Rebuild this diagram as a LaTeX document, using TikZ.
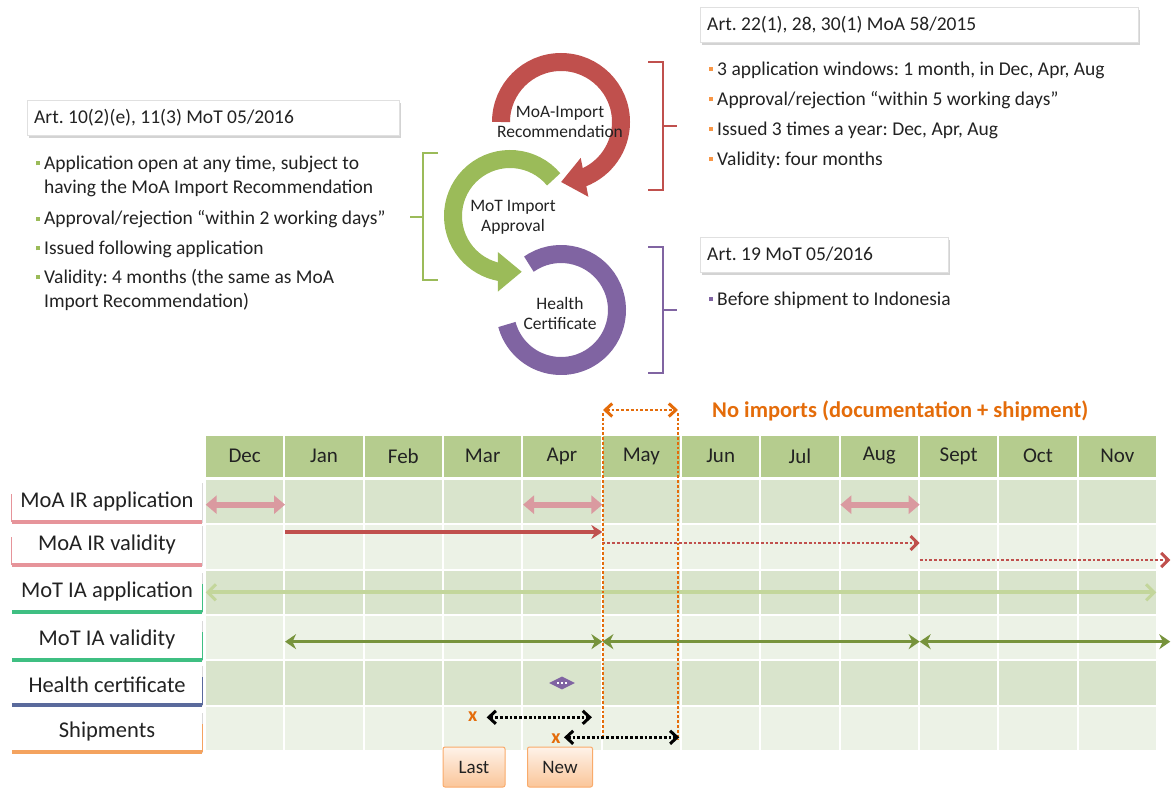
\documentclass[tikz,border=0pt]{standalone}
\usepackage{fontspec}
\setmainfont{Carlito}
\usetikzlibrary{arrows.meta,bending,shadows,shapes.geometric,positioning}
\frenchspacing

\definecolor{moared}{HTML}{C0504D}
\definecolor{motgreen}{HTML}{9BBB59}
\definecolor{hcpurple}{HTML}{8064A2}
\definecolor{shiporange}{HTML}{F79646}
\definecolor{noimp}{HTML}{E46C0A}
\definecolor{hdrgreen}{HTML}{B5CC8E}
\definecolor{rowdark}{HTML}{D9E4CC}
\definecolor{rowlight}{HTML}{ECF2E6}
\definecolor{apppink}{HTML}{DA9AA0}
\definecolor{applgreen}{HTML}{C3D69B}
\definecolor{validgreen}{HTML}{77933C}
\definecolor{labpink}{HTML}{E6949A}
\definecolor{labgreen}{HTML}{3FBF82}
\definecolor{labblue}{HTML}{5A6A9C}
\definecolor{laborange}{HTML}{F4A35F}
\definecolor{txtdark}{HTML}{222222}

\newcommand{\sqb}[1]{\textcolor{#1}{\rule[0.45ex]{4pt}{4pt}}\hspace{4pt}}

\tikzset{
  artbox/.style={draw=black!12, fill=white, anchor=west, align=flush left, minimum height=35pt, inner xsep=7pt, inner ysep=5pt,
    font=\fontsize{19.5}{22}\selectfont, text=txtdark, drop shadow={opacity=0.35, shadow xshift=1.5pt, shadow yshift=-2.5pt}},
  bul/.style={anchor=west, align=left, inner sep=0pt, font=\fontsize{19.5}{24}\selectfont, text=txtdark},
  ring/.style={line width=18pt},
  ringtxt/.style={align=center, inner sep=0pt, font=\fontsize{17.5}{20}\selectfont, text=txtdark},
  brk/.style={line width=2.5pt},
  hdr/.style={fill=hdrgreen, minimum width=77.5pt, minimum height=41pt, inner sep=0pt, font=\fontsize{21}{24}\selectfont, text=txtdark},
  cell/.style={minimum width=77.5pt, minimum height=43.5pt, inner sep=0pt},
  rowlab/.style={fill=white, minimum width=190pt, minimum height=40pt, inner sep=0pt, font=\fontsize{22.5}{24}\selectfont, text=txtdark,
    drop shadow={opacity=0.3, shadow xshift=1pt, shadow yshift=-1.5pt}},
  appl/.style={apppink, line width=6pt, {Triangle[width=18pt,length=11pt]}-{Triangle[width=18pt,length=11pt]}},
  valid/.style={moared, line width=3.5pt, -{Stealth[width=14pt,length=11pt]}},
  validnext/.style={moared, dotted, line width=2.8pt, -{Straight Barb[width=14pt,length=7pt,line width=3pt]}},
  motapp/.style={applgreen, line width=4pt, {Straight Barb[width=16pt,length=8pt,line width=3pt]}-{Straight Barb[width=16pt,length=8pt,line width=3pt]}},
  motvalid/.style={validgreen, line width=3.5pt, {Stealth[width=15pt,length=11pt]}-{Stealth[width=15pt,length=11pt]}},
  ship/.style={black, dotted, line width=2.8pt, {Straight Barb[width=13pt,length=7pt,line width=3pt]}-{Straight Barb[width=13pt,length=7pt,line width=3pt]}},
  stop/.style={noimp, dotted, line width=2.8pt},
  xmark/.style={inner sep=0pt, font=\fontsize{20}{20}\selectfont\bfseries, text=noimp},
  tagbox/.style={draw=shiporange!80, line width=1pt, top color=shiporange!12, bottom color=shiporange!55, rounded corners=2pt,
    minimum width=62pt, minimum height=40pt, font=\fontsize{19}{22}\selectfont, text=txtdark}
}

\begin{document}
\begin{tikzpicture}[x=1pt, y=-1pt]
\useasboundingbox (0,0) rectangle (1172,787);

% references and what they say
\node[artbox, text width=358pt] (artmot) at (27,117.5) {Art. 10(2)(e), 11(3) MoT 05/2016};
\node[artbox, text width=424pt] (artmoa) at (700,24.5) {Art. 22(1), 28, 30(1) MoA 58/2015};
\node[artbox, text width=234pt] (arthc) at (700,254.5) {Art. 19 MoT 05/2016};

\node[bul] (lb1) at (36,176.5) {\sqb{motgreen}Application open at any time, subject to\\\hspace*{8pt}having the MoA Import Recommendation};
\node[bul] (lb2) at (36,219.5) {\sqb{motgreen}Approval/rejection “within 2 working days”};
\node[bul] (lb3) at (36,249.5) {\sqb{motgreen}Issued following application};
\node[bul] (lb4) at (36,290) {\sqb{motgreen}Validity: 4 months (the same as MoA\\\hspace*{8pt}Import Recommendation)};

\node[bul] (rb1) at (709,70) {\sqb{shiporange}3 application windows: 1 month, in Dec, Apr, Aug};
\node[bul] (rb2) at (709,100) {\sqb{shiporange}Approval/rejection “within 5 working days”};
\node[bul] (rb3) at (709,130) {\sqb{shiporange}Issued 3 times a year: Dec, Apr, Aug};
\node[bul] (rb4) at (709,160) {\sqb{shiporange}Validity: four months};
\node[bul] (pb1) at (709,300) {\sqb{hcpurple}Before shipment to Indonesia};

% brackets
\draw[brk, motgreen] (438,153) -- (423,153) -- (423,280) -- (438,280) (423,217) -- (410,217);
\draw[brk, moared] (648,62) -- (663,62) -- (663,190) -- (648,190) (663,126) -- (677,126);
\draw[brk, hcpurple] (648,247) -- (663,247) -- (663,373) -- (648,373) (663,310) -- (677,310);

% the three documents
\draw[ring, motgreen, -{Triangle[width=38pt,length=24pt,flex]}] (510,216) ++(-40:57) arc[start angle=-40, end angle=-282, radius=57];
\draw[ring, hcpurple] (561,310) ++(-125:56) arc[start angle=-125, end angle=165, radius=56];
\draw[ring, moared, -{Triangle[width=38pt,length=24pt,flex]}] (561,122) ++(-180:60) arc[start angle=-180, end angle=90, radius=60];
\node[ringtxt] (moa) at (560,122) {MoA-Import\\Recommendation};
\node[ringtxt] (mot) at (513,217) {MoT Import\\Approval};
\node[ringtxt] (hc) at (560,313) {Health\\Certificate};

% calendar
\foreach \m [count=\i from 0] in {Dec,Jan,Feb,Mar,Apr,May,Jun,Jul,Aug,Sept,Oct,Nov}
  \node[hdr] (h\i) at ({244.67+79.33*\i},456) {\m};
\foreach \r/\rowc in {1/rowdark,2/rowlight,3/rowdark,4/rowlight,5/rowdark,6/rowlight}
  \foreach \i in {0,...,11}
    \node[cell, fill=\rowc] (c\r-\i) at ({244.67+79.33*\i},{479+45.33*(\r-0.5)}) {};

\foreach \r/\txt/\barc/\side/\yb in {1/MoA IR application/labpink/west/522, 2/MoA IR validity/labpink/west/565,
    3/MoT IA application/labgreen/east/612, 4/MoT IA validity/labgreen/east/660,
    5/Health certificate/labblue/east/705, 6/Shipments/laborange/east/752} {
  \node[rowlab, anchor=south] (lab\r) at (107,\yb) {\txt};
  \draw[\barc, line width=1pt] (lab\r.south \side) -- ++(0,-28);
  \draw[\barc, line width=4pt] (lab\r.south west) -- (lab\r.south east);
}

% rows
\draw[appl] ([yshift=-3pt]c1-0.west) -- ([yshift=-3pt]c1-1.west);
\draw[appl] ([yshift=-3pt]c1-4.west) -- ([yshift=-3pt]c1-5.west);
\draw[appl] ([yshift=-3pt]c1-8.west) -- ([yshift=-3pt]c1-9.west);

\draw[valid] ([yshift=15pt]c2-1.west) -- ([yshift=15pt]c2-5.west);
\draw[validnext] ([yshift=4pt]c2-5.west) -- ([yshift=4pt]c2-9.west);
\draw[validnext] ([yshift=-13pt]c2-9.west) -- ([xshift=14pt,yshift=-13pt]c2-11.east);

\draw[motapp] (c3-0.west) -- (c3-11.east);

\draw[motvalid] ([yshift=-4pt]c4-1.west) -- ([yshift=-4pt]c4-5.west);
\draw[motvalid] ([yshift=-4pt]c4-5.west) -- ([yshift=-4pt]c4-9.west);
\draw[motvalid] ([yshift=-4pt]c4-9.west) -- ([xshift=14pt,yshift=-4pt]c4-11.east);

\node[diamond, aspect=2, fill=hcpurple, minimum width=26pt, minimum height=13pt, inner sep=0pt] (hcmark) at (c5-4.center) {};
\draw[white, line width=1.2pt, dashed, dash pattern=on 2pt off 2pt] ([xshift=-5pt]hcmark.center) -- ([xshift=5pt]hcmark.center);

% no imports window
\coordinate (nl) at (603,410);
\coordinate (nr) at (678,410);
\coordinate (nlb) at (603,737);
\coordinate (nrb) at (678,740);
\draw[stop] ([yshift=-3pt]nl) -- (nlb);
\draw[stop] ([yshift=-3pt]nr) -- (nrb);
\draw[noimp, dotted, line width=2.8pt, {Straight Barb[width=13pt,length=7pt,line width=3pt]}-{Straight Barb[width=13pt,length=7pt,line width=3pt]}] (nl) -- (nr);
\node[anchor=west, inner sep=0pt, font=\fontsize{22.5}{24}\selectfont\bfseries, text=noimp] (noimports) at (712,411) {No imports (documentation + shipment)};

% shipments
\node[xmark] (xlast) at ([xshift=-10pt,yshift=12pt]c6-3.center) {x};
\node[xmark] (xnew) at ([xshift=-6pt,yshift=-10pt]c6-4.center) {x};
\draw[ship] ([xshift=4pt,yshift=11pt]c6-3.center) -- ([xshift=-9pt,yshift=11pt]c6-4.east);
\draw[ship] ([xshift=2pt,yshift=-9pt]c6-4.center) -- ([xshift=-1pt,yshift=-9pt]c6-5.east);

\node[tagbox] (last) at (474,767) {Last};
\node[tagbox, minimum width=65pt] (new) at (560,767) {New};
\end{tikzpicture}
\end{document}
